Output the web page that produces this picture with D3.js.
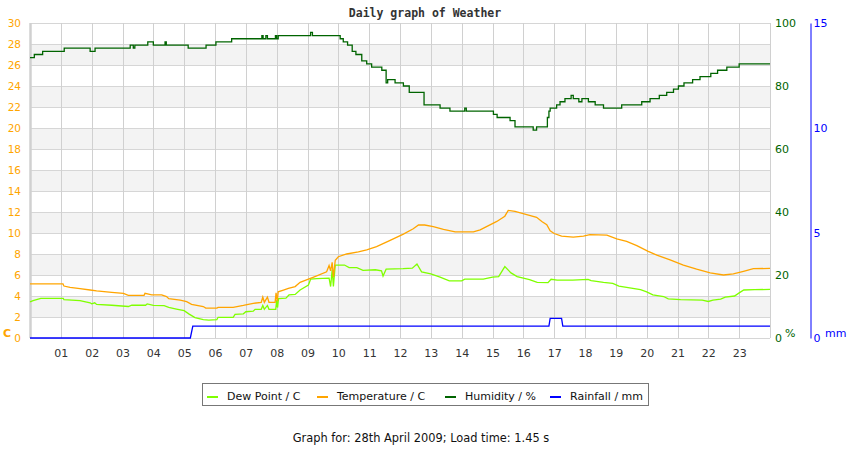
<!DOCTYPE html>
<html>
<head>
<meta charset="utf-8">
<script src="https://cdn.jsdelivr.net/npm/d3@7"></script>
<style>
    body { margin: 0; background: #ffffff; }
    svg text { font-family: "DejaVu Sans", sans-serif; }
</style>
</head>
<body>
<div id="graph"></div>
<script>
// data: [hour, value]
const hourTicks = d3.range(1, 24);
const tempTicks = d3.range(0, 31, 2);
const humTicks = [0, 20, 40, 60, 80, 100];
const rainTicks = [0, 5, 10, 15];

const seriesNames = ["Dew Point / C", "Temperature / C", "Humidity / %", "Rainfall / mm"];
const seriesColors = ["#7fff00", "#ffa500", "#006400", "#0000ff"];

const dewPoint = [[0,3.45],[0.1,3.56],[0.35,3.78],[1.08,3.78],[1.1,3.65],[1.62,3.55],[1.95,3.35],[2.0,3.25],[2.1,3.35],
    [2.16,3.2],[2.65,3.12],[3.19,3.0],[3.3,3.12],[3.75,3.12],[3.8,3.25],[4.0,3.1],[4.35,3.08],[4.5,2.92],[4.75,2.76],
    [5.0,2.6],[5.15,2.3],[5.35,1.95],[5.62,1.75],[5.8,1.7],[6.06,1.75],[6.1,1.97],[6.59,1.97],[6.65,2.25],[6.92,2.3],
    [7.0,2.5],[7.24,2.55],[7.3,2.73],[7.5,2.73],[7.55,3.1],[7.6,2.73],[7.7,3.1],[7.75,2.73],[7.97,2.73],[8.0,3.6],
    [8.03,2.9],[8.06,3.75],[8.3,3.8],[8.4,4.1],[8.6,4.15],[8.76,4.57],[9.03,5.05],[9.1,5.6],[9.3,5.65],[9.7,5.7],
    [9.75,4.9],[9.8,6.5],[9.84,4.9],[9.9,6.95],[10.2,6.95],[10.35,6.7],[10.6,6.7],[10.8,6.45],[11.2,6.5],[11.4,6.4],
    [11.45,5.9],[11.55,6.55],[12.1,6.6],[12.4,6.65],[12.55,7.05],[12.7,6.3],[13.0,6.1],[13.3,5.8],[13.6,5.45],[14.0,5.45],
    [14.1,5.6],[14.7,5.6],[15.0,5.8],[15.2,5.85],[15.4,6.8],[15.6,6.2],[15.8,5.85],[16.2,5.55],[16.45,5.3],[16.8,5.27],
    [16.9,5.59],[17.1,5.52],[17.6,5.52],[18.1,5.59],[18.2,5.46],[18.6,5.3],[18.9,5.2],[19.1,4.95],[19.4,4.8],[19.8,4.6],
    [20.0,4.4],[20.2,4.1],[20.55,3.95],[20.7,3.72],[21.1,3.65],[21.8,3.6],[22.0,3.48],[22.15,3.6],[22.4,3.7],[22.55,3.9],
    [22.85,4.0],[23.0,4.3],[23.15,4.57],[23.5,4.6],[24,4.63]];

const temperature = [[0,5.15],[1.07,5.15],[1.1,4.95],[1.3,4.83],[1.62,4.7],[1.95,4.57],[2.16,4.48],[2.65,4.35],[3.03,4.25],
    [3.19,4.06],[3.7,4.06],[3.73,4.25],[3.95,4.1],[4.27,4.1],[4.43,3.94],[4.5,3.75],[4.87,3.6],[5.08,3.46],[5.24,3.2],
    [5.62,3.0],[5.7,2.85],[6.06,2.85],[6.1,2.92],[6.59,2.92],[6.92,3.1],[7.24,3.3],[7.5,3.4],[7.55,3.9],[7.6,3.4],[7.7,3.9],
    [7.75,3.4],[7.95,3.4],[7.98,4.3],[8.02,3.5],[8.05,4.4],[8.22,4.57],[8.38,4.73],[8.6,4.9],[8.76,5.3],[9.03,5.6],
    [9.24,5.84],[9.62,6.3],[9.7,6.9],[9.75,6.4],[9.8,7.2],[9.84,5.8],[9.9,7.4],[10.0,7.74],[10.27,8.0],[10.65,8.2],
    [10.92,8.4],[11.24,8.7],[11.68,9.3],[12.11,9.9],[12.43,10.4],[12.6,10.76],[12.8,10.76],[13.08,10.6],[13.41,10.35],
    [13.79,10.1],[14.38,10.1],[14.6,10.3],[15.14,11.1],[15.4,11.6],[15.51,12.15],[15.73,12.05],[16.11,11.75],[16.43,11.5],
    [16.6,11.1],[16.76,10.8],[16.87,10.2],[17.0,9.95],[17.24,9.7],[17.62,9.6],[17.95,9.7],[18.16,9.84],[18.71,9.8],
    [19.03,9.45],[19.35,9.2],[19.68,8.8],[20.05,8.25],[20.33,7.9],[20.76,7.45],[21.19,6.95],[21.62,6.55],[22.06,6.2],
    [22.49,6.0],[22.81,6.1],[23.14,6.35],[23.46,6.6],[24,6.63]];

// humidity is a step series: value holds until the next hour mark
const humidity = [[0,89],[0.14,90],[0.41,91],[1.11,92],[1.95,91],[2.11,92],[3.25,93],[3.35,92],[3.4,93],[3.82,94],
    [4.0,93],[4.38,94],[4.42,93],[5.13,92],[5.71,93],[6.03,94],[6.54,95],[7.52,96],[7.56,95],[7.65,96],[7.7,95],
    [7.96,96],[8.0,95],[8.05,96],[9.1,97],[9.16,96],[10.06,95],[10.16,94],[10.3,93],[10.45,91],[10.57,90],[10.76,88],
    [10.92,87],[11.08,86],[11.41,85],[11.55,81],[11.6,82],[11.84,81],[12.11,80],[12.3,78],[12.78,74],[13.3,73],
    [13.62,72],[14.1,73],[14.15,72],[15.03,71],[15.15,70],[15.57,69],[15.73,67],[16.32,66],[16.43,67],[16.78,70],
    [16.83,72],[16.87,73],[17.08,74],[17.19,75],[17.35,76],[17.55,77],[17.62,76],[17.8,75],[17.9,76],[18.11,75],
    [18.33,74],[18.6,73],[19.19,74],[19.84,75],[20.11,76],[20.41,77],[20.65,78],[20.87,79],[21.03,80],[21.21,81],
    [21.49,82],[21.73,83],[22.08,84],[22.3,85],[22.6,86],[23.0,87],[24,87]];

const rainfall = [[0,0],[5.2,0],[5.28,0.57],[16.83,0.57],[16.87,0.93],[17.24,0.93],[17.28,0.57],[24,0.57]];

const width = 850,
    height = 450,
    margin = {left: 30, right: 80, top: 23, bottom: 112};

const chartWidth = width - margin.left - margin.right;
const chartHeight = height - margin.top - margin.bottom;

const svg = d3.select("#graph")
    .append("svg")
    .attr("width", width)
    .attr("height", height);

const xScale = d3.scaleLinear().domain([0, 24]).range([margin.left, margin.left + chartWidth]);
const yTemp = d3.scaleLinear().domain([0, 30]).range([margin.top + chartHeight, margin.top]);
const yHum = d3.scaleLinear().domain([0, 100]).range(yTemp.range());
const yRain = d3.scaleLinear().domain([0, 15]).range(yTemp.range());

// alternating bands
svg.append("g")
    .selectAll("rect")
    .data(tempTicks.filter(t => t % 4 === 2 && t < 30))
    .join("rect")
    .attr("x", xScale(0))
    .attr("width", xScale(24) - xScale(0))
    .attr("y", d => yTemp(d + 2))
    .attr("height", d => yTemp(d) - yTemp(d + 2))
    .attr("fill", "#f3f3f3");

// grid
svg.append("g")
    .selectAll("line")
    .data(tempTicks)
    .join("line")
    .attr("x1", xScale(0)).attr("x2", xScale(24))
    .attr("y1", d => Math.round(yTemp(d)) + 0.5)
    .attr("y2", d => Math.round(yTemp(d)) + 0.5)
    .attr("stroke", "#d6d6d6");

svg.append("g")
    .selectAll("line")
    .data(d3.range(0, 25))
    .join("line")
    .attr("x1", d => Math.round(xScale(d)) + 0.5)
    .attr("x2", d => Math.round(xScale(d)) + 0.5)
    .attr("y1", yTemp(30)).attr("y2", yTemp(0))
    .attr("stroke", "#d0d0d0")
    .attr("stroke-width", d => d === 0 ? 2.5 : 1);

// x axis
const xAxis = d3.axisBottom(xScale)
    .tickValues(hourTicks)
    .tickFormat(d3.format("02d"))
    .tickSize(0)
    .tickPadding(11);

svg.append("g")
    .attr("transform", "translate(0," + yTemp(0) + ")")
    .call(xAxis)
    .call(g => g.select(".domain").remove())
    .selectAll("text")
    .attr("fill", "#333")
    .style("font-size", "11px");

// left axis (temperature)
svg.append("g")
    .attr("transform", "translate(" + (margin.left - 9) + ",0)")
    .call(d3.axisLeft(yTemp).tickValues(tempTicks).tickSize(0).tickPadding(0))
    .call(g => g.select(".domain").remove())
    .selectAll("text")
    .attr("fill", "#ffa500")
    .style("font-size", "10.5px");

// right axis (humidity)
svg.append("g")
    .attr("transform", "translate(" + xScale(24) + ",0)")
    .call(d3.axisRight(yHum).tickValues(humTicks).tickSize(0).tickPadding(5))
    .call(g => g.select(".domain").remove())
    .selectAll("text")
    .attr("fill", "#006400")
    .style("font-size", "11px");

// far right axis (rainfall)
const rainAxis = svg.append("g")
    .attr("transform", "translate(810.5,0)")
    .call(d3.axisRight(yRain).tickValues(rainTicks).tickSize(0).tickSizeOuter(0).tickPadding(3));
rainAxis.select(".domain").attr("stroke", "#0000ff");
rainAxis.selectAll("text")
    .attr("fill", "#0000ff")
    .style("font-size", "11px");

// unit labels
svg.append("text").attr("x", 3).attr("y", 337)
    .attr("fill", "#ffa500").style("font-weight", "bold").style("font-size", "11px").text("C");
svg.append("text").attr("x", 785).attr("y", 337)
    .attr("fill", "#006400").style("font-size", "11px").text("%");
svg.append("text").attr("x", 825).attr("y", 337)
    .attr("fill", "#0000ff").style("font-size", "11px").text("mm");

// lines
const lineTemp = d3.line().x(d => xScale(d[0])).y(d => yTemp(d[1]));
const lineHum = d3.line().x(d => xScale(d[0])).y(d => yHum(d[1])).curve(d3.curveStepAfter);
const lineRain = d3.line().x(d => xScale(d[0])).y(d => yRain(d[1]));

const plots = [
    {data: dewPoint, line: lineTemp, color: seriesColors[0]},
    {data: temperature, line: lineTemp, color: seriesColors[1]},
    {data: humidity, line: lineHum, color: seriesColors[2]},
    {data: rainfall, line: lineRain, color: seriesColors[3]}
];

svg.append("g")
    .selectAll("path")
    .data(plots)
    .join("path")
    .attr("d", d => d.line(d.data))
    .attr("fill", "none")
    .attr("stroke", d => d.color)
    .attr("stroke-width", 1.3);

// title
svg.append("text")
    .attr("x", 425).attr("y", 17)
    .attr("text-anchor", "middle")
    .style("font-family", "'DejaVu Sans Mono', monospace")
    .style("font-weight", "bold")
    .style("font-size", "11.5px")
    .attr("fill", "#333")
    .text("Daily graph of Weather");

// legend
const legend = svg.append("g");
legend.append("rect")
    .attr("x", 202.5).attr("y", 383.5)
    .attr("width", 446).attr("height", 22)
    .attr("fill", "#fff")
    .attr("stroke", "#777");

const legendX = [207, 317, 445, 550];
const items = legend.selectAll("g.item")
    .data(seriesNames)
    .join("g")
    .attr("class", "item")
    .attr("transform", (d, i) => "translate(" + legendX[i] + ",0)");

items.append("line")
    .attr("x1", 0).attr("x2", 11)
    .attr("y1", 397).attr("y2", 397)
    .attr("stroke", (d, i) => seriesColors[i])
    .attr("stroke-width", 2);

items.append("text")
    .attr("x", 20).attr("y", 399.5)
    .style("font-size", "11px")
    .attr("fill", "#111")
    .text(d => d);

// footer
svg.append("text")
    .attr("x", 421).attr("y", 442)
    .attr("text-anchor", "middle")
    .style("font-size", "11.4px")
    .attr("fill", "#111")
    .text("Graph for: 28th April 2009; Load time: 1.45 s");
</script>
</body>
</html>
